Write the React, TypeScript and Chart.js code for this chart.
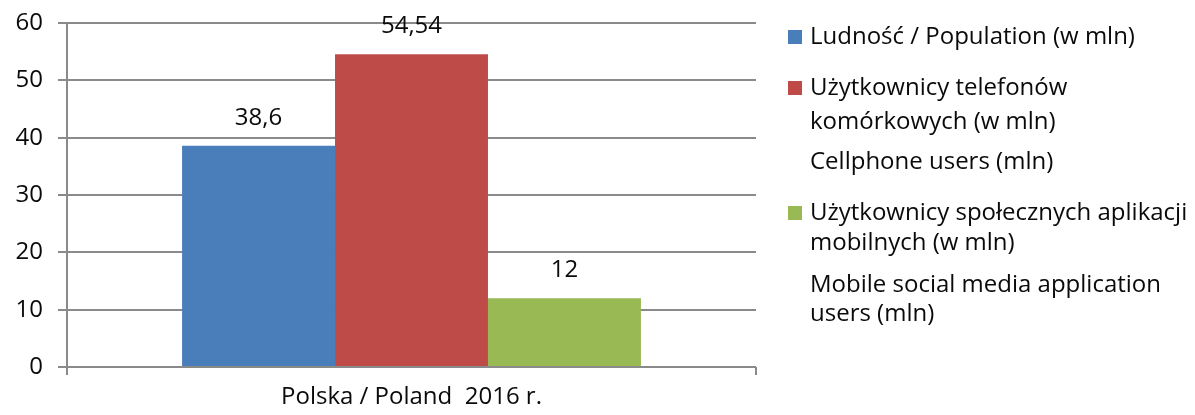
import React, { useEffect, useRef } from "react";
import { Chart, registerables } from "chart.js";

Chart.register(...registerables);

const categories = ["Polska / Poland  2016 r."];
const seriesNames = [
  "Ludność / Population (w mln)",
  "Użytkownicy telefonów komórkowych (w mln)",
  "Użytkownicy społecznych aplikacji mobilnych (w mln)",
];
const populationValues = [38.6];
const cellphoneValues = [54.54];
const socialAppValues = [12];
const legendLines = [
  ["Ludność / Population (w mln)"],
  ["Użytkownicy telefonów", "komórkowych (w mln)", "Cellphone users (mln)"],
  [
    "Użytkownicy społecznych aplikacji",
    "mobilnych (w mln)",
    "Mobile social media application",
    "users (mln)",
  ],
];
const yMin = 0;
const yMax = 60;
const yStep = 10;

const FONT = "'Open Sans', Lato, sans-serif";
const FONT_SIZE = 24;
const colors = ["#4a7ebb", "#be4b48", "#98b954"];
const legendLineY = [[37], [88, 122, 162], [213, 243, 285, 314]];

const dataLabelPlugin = {
  id: "dataLabels",
  afterDatasetsDraw(chart: any) {
    const ctx = chart.ctx;
    ctx.save();
    ctx.font = `${FONT_SIZE}px ${FONT}`;
    ctx.fillStyle = "#0a0a0a";
    ctx.textAlign = "center";
    ctx.textBaseline = "middle";
    chart.data.datasets.forEach((ds: any, i: number) => {
      const meta = chart.getDatasetMeta(i);
      meta.data.forEach((bar: any, j: number) => {
        const v = ds.data[j];
        const txt = String(v).replace(".", ",");
        ctx.fillText(txt, bar.x, bar.y - 28);
      });
    });
    ctx.restore();
  },
};

const legendPlugin = {
  id: "customLegend",
  afterDraw(chart: any) {
    const ctx = chart.ctx;
    ctx.save();
    ctx.font = `${FONT_SIZE}px ${FONT}`;
    ctx.textBaseline = "middle";
    ctx.textAlign = "left";
    legendLines.forEach((lines, i) => {
      const ys = legendLineY[i];
      ctx.fillStyle = chart.data.datasets[i].backgroundColor;
      ctx.fillRect(788, ys[0] - 7, 14, 14);
      ctx.fillStyle = "#0a0a0a";
      lines.forEach((line, k) => {
        ctx.fillText(line, 810, ys[k]);
      });
    });
    ctx.restore();
  },
};

export default function App() {
  const ref = useRef<HTMLCanvasElement>(null);
  useEffect(() => {
    document.body.style.margin = "0";
    const chart = new Chart(ref.current as HTMLCanvasElement, {
      type: "bar",
      data: {
        labels: categories,
        datasets: [
          { label: seriesNames[0], data: populationValues, backgroundColor: colors[0] },
          { label: seriesNames[1], data: cellphoneValues, backgroundColor: colors[1] },
          { label: seriesNames[2], data: socialAppValues, backgroundColor: colors[2] },
        ],
      },
      options: {
        animation: false,
        responsive: false,
        layout: { padding: { top: 23, right: 439, left: 0, bottom: 0 } },
        plugins: { legend: { display: false }, tooltip: { enabled: false } },
        datasets: { bar: { barPercentage: 1, categoryPercentage: 0.666 } },
        scales: {
          x: {
            grid: {
              drawOnChartArea: false,
              drawTicks: true,
              tickLength: 8,
              color: "#8a8a8a",
              lineWidth: 2,
            },
            border: { display: false },
            ticks: {
              color: "#0a0a0a",
              font: { family: FONT, size: FONT_SIZE },
              padding: 8,
            },
            afterFit(scale: any) {
              scale.height = 48;
              scale.paddingLeft = 0;
              scale.paddingRight = 0;
            },
          },
          y: {
            min: yMin,
            max: yMax,
            ticks: {
              stepSize: yStep,
              color: "#0a0a0a",
              font: { family: FONT, size: FONT_SIZE },
              padding: 15,
            },
            grid: {
              color: "#8a8a8a",
              lineWidth: 2,
              tickLength: 9,
            },
            border: { color: "#8a8a8a", width: 2 },
            afterFit(scale: any) {
              scale.width = 67;
              scale.paddingTop = 0;
              scale.paddingBottom = 0;
            },
          },
        },
      },
      plugins: [dataLabelPlugin, legendPlugin],
    });
    return () => chart.destroy();
  }, []);
  return (
    <div style={{ width: 1195, height: 415, background: "#fff" }}>
      <canvas ref={ref} width={1195} height={415} style={{ display: "block" }} />
    </div>
  );
}
